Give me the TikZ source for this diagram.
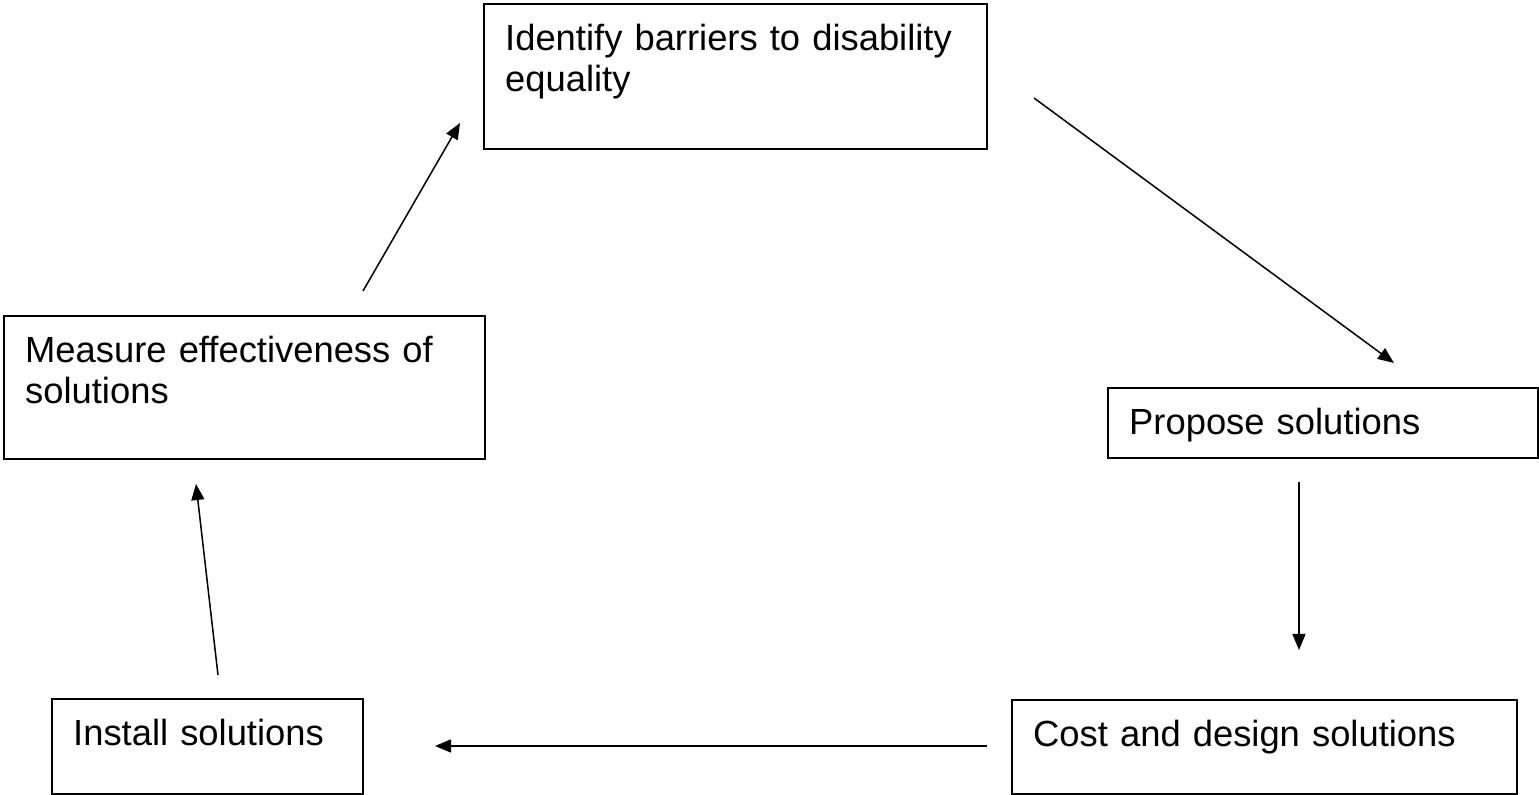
\documentclass[tikz,border=0pt]{standalone}
\usepackage{fontspec}
\setmainfont{Liberation Sans}
\usepackage{tikz}
\usetikzlibrary{arrows.meta}
\tikzset{stage/.style={draw, line width=0.65pt, anchor=north west, align=left,
    inner xsep=7pt, inner ysep=0pt, text height=15.2pt,
    font=\fontsize{12}{13.8}\selectfont},
    flow/.style={line width=0.5pt, -{Triangle[length=5.3pt,width=4.3pt]}}}
\begin{document}
\begin{tikzpicture}[x=0.33pt,y=-0.33pt]
\useasboundingbox (0,0) rectangle (1539,795);
\node[stage, text width=152pt, text depth=32.65pt] (identify) at (483,3)
    {Identify barriers to disability\\equality};
\node[stage, text width=144.7pt, text depth=32pt] (measure) at (3,315)
    {Measure effectiveness of\\solutions};
\node[stage, text width=127.9pt, text depth=7.9pt] (propose) at (1107,387)
    {Propose solutions};
\node[stage, text width=88.6pt, text depth=16.15pt] (install) at (51,698)
    {Install solutions};
\node[stage, text width=152.6pt, text depth=15.8pt] (cost) at (1011,699)
    {Cost and design solutions};
% free arrow ends
\coordinate (identify-out) at (1034,98);
\coordinate (propose-in) at (1394,363);
\coordinate (propose-out) at (1299,482);
\coordinate (cost-in) at (1299,650);
\coordinate (cost-out) at (987,746);
\coordinate (install-in) at (435,746);
\coordinate (install-out) at (218,675);
\coordinate (measure-in) at (196,484);
\coordinate (measure-out) at (363,291);
\coordinate (identify-in) at (460,123);
\draw[flow] (identify-out) -- (propose-in);
\draw[flow] (propose-out) -- (cost-in);
\draw[flow] (cost-out) -- (install-in);
\draw[flow] (install-out) -- (measure-in);
\draw[flow] (measure-out) -- (identify-in);
\end{tikzpicture}
\end{document}
